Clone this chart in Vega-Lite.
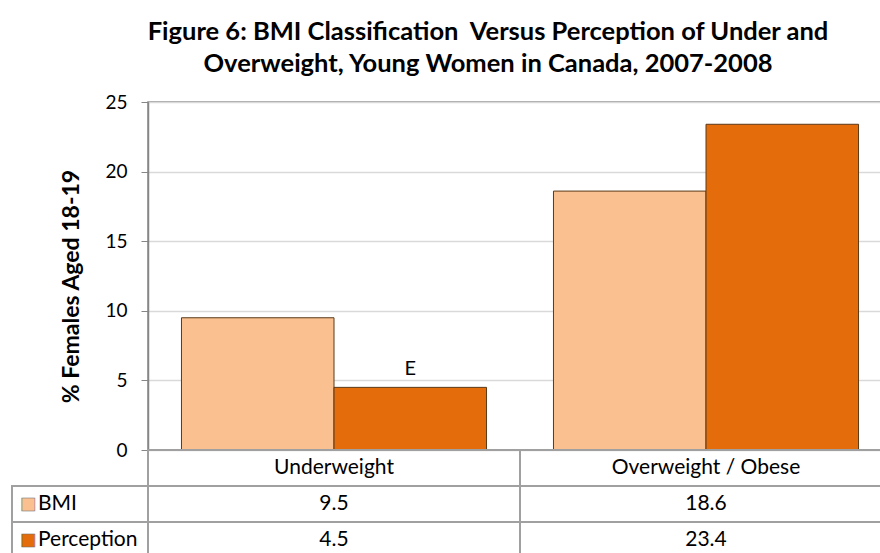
{
  "$schema": "https://vega.github.io/schema/vega-lite/v6.json",
  "padding": {"left": 11, "top": 20, "right": 0, "bottom": 0},
  "background": "white",
  "title": {
    "text": ["Figure 6: BMI Classification\u00a0 Versus Perception of Under and", "Overweight, Young Women in Canada, 2007-2008"],
    "font": "Lato", "fontSize": 25.5, "fontWeight": "bold", "lineHeight": 32,
    "color": "#000000", "anchor": "middle", "dx": 36, "offset": 14.5
  },
  "config": {"view": {"stroke": null}, "font": "Lato"},
  "datasets": {
    "bars": [
      {"category": "Underweight", "series": "BMI", "value": 9.5, "flag": ""},
      {"category": "Underweight", "series": "Perception", "value": 4.5, "flag": "E"},
      {"category": "Overweight / Obese", "series": "BMI", "value": 18.6, "flag": ""},
      {"category": "Overweight / Obese", "series": "Perception", "value": 23.4, "flag": ""}
    ],
    "header": [
      {"category": "Underweight", "series": "header"},
      {"category": "Overweight / Obese", "series": "header"}
    ],
    "keys": [
      {"series": "BMI"},
      {"series": "Perception"}
    ]
  },
  "bounds": "flush",
  "spacing": 0,
  "columns": 2,
  "concat": [
    {
      "width": 136, "height": 348,
      "data": {"values": [{"blank": ""}]},
      "mark": {"type": "text"},
      "encoding": {"text": {"field": "blank"}}
    },
    {
      "width": 744, "height": 348,
      "view": {"stroke": "#868686", "strokeWidth": 1.5},
      "data": {"name": "bars"},
      "encoding": {
        "x": {"field": "category", "type": "nominal", "sort": null,
              "scale": {"paddingInner": 0.18, "paddingOuter": 0.09}, "axis": null},
        "xOffset": {"field": "series", "type": "nominal", "sort": ["BMI", "Perception"]},
        "y": {"field": "value", "type": "quantitative",
              "scale": {"domain": [0, 25], "nice": false},
              "axis": {"values": [0, 5, 10, 15, 20, 25], "title": "% Females Aged 18-19",
                       "titleFontSize": 23, "titleFontWeight": "bold", "titleColor": "#000000",
                       "titlePadding": 21, "titleY": 184, "labelFontSize": 19, "labelColor": "#000000",
                       "labelPadding": 14, "tickSize": 7, "tickColor": "#868686",
                       "domainColor": "#868686", "domainWidth": 1.5,
                       "gridColor": "#d9d9d9", "gridWidth": 1.5}}
      },
      "layer": [
        {
          "mark": {"type": "bar", "stroke": "#5a3a1a", "strokeWidth": 1},
          "encoding": {
            "color": {"field": "series", "type": "nominal",
                      "scale": {"domain": ["BMI", "Perception"], "range": ["#FAC090", "#E46C0A"]},
                      "legend": null}
          }
        },
        {
          "transform": [{"filter": "datum.flag !== ''"}],
          "mark": {"type": "text", "fontSize": 20, "color": "#000000", "baseline": "bottom", "dy": -8},
          "encoding": {"text": {"field": "flag"}}
        }
      ]
    },
    {
      "width": 136, "height": 108,
      "data": {"name": "keys"},
      "encoding": {
        "y": {"field": "series", "type": "nominal",
              "scale": {"domain": ["header", "BMI", "Perception"], "paddingInner": 0, "paddingOuter": 0},
              "axis": null}
      },
      "layer": [
        {"mark": {"type": "rect", "filled": false, "stroke": "#a0a0a0", "strokeWidth": 2}},
        {
          "mark": {"type": "text", "text": "■", "font": "DejaVu Sans", "fontSize": 17,
                   "stroke": "#6e6e6e", "strokeWidth": 0.6, "dx": -52},
          "encoding": {
            "color": {"field": "series", "type": "nominal",
                      "scale": {"domain": ["BMI", "Perception"], "range": ["#FAC090", "#E46C0A"]},
                      "legend": null}
          }
        },
        {
          "mark": {"type": "text", "fontSize": 21, "color": "#000000", "align": "left", "dx": -42},
          "encoding": {"text": {"field": "series"}}
        }
      ]
    },
    {
      "width": 744, "height": 108,
      "encoding": {
        "x": {"field": "category", "type": "nominal", "sort": ["Underweight", "Overweight / Obese"],
              "scale": {"paddingInner": 0, "paddingOuter": 0}, "axis": null},
        "y": {"field": "series", "type": "nominal",
              "scale": {"domain": ["header", "BMI", "Perception"], "paddingInner": 0, "paddingOuter": 0},
              "axis": null}
      },
      "layer": [
        {"data": {"name": "bars"}, "mark": {"type": "rect", "filled": false, "stroke": "#a0a0a0", "strokeWidth": 2}},
        {"data": {"name": "header"}, "mark": {"type": "rect", "filled": false, "stroke": "#a0a0a0", "strokeWidth": 2}},
        {"data": {"name": "bars"}, "mark": {"type": "text", "fontSize": 21, "color": "#000000"},
         "encoding": {"text": {"field": "value", "type": "quantitative", "format": ".1f"}}},
        {"data": {"name": "header"}, "mark": {"type": "text", "fontSize": 21, "color": "#000000"},
         "encoding": {"text": {"field": "category"}}}
      ]
    }
  ]
}
